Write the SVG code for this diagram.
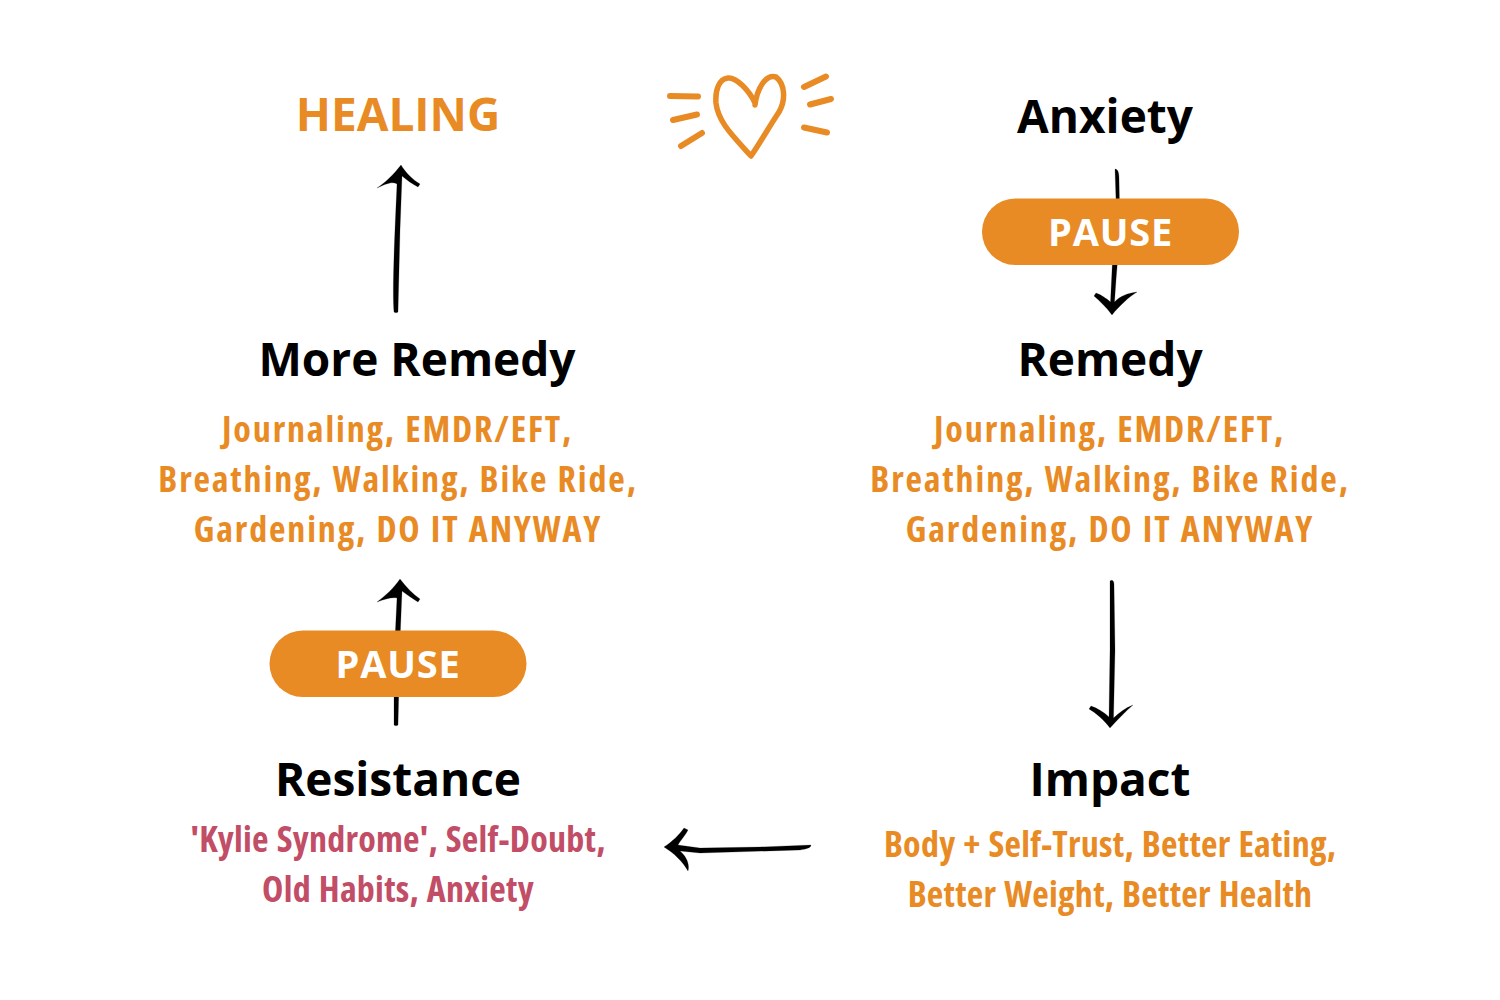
<svg xmlns="http://www.w3.org/2000/svg" width="1500" height="1000" viewBox="0 0 1500 1000">
<style>
text{font-family:"Open Sans","Noto Sans","Liberation Sans",sans-serif;text-anchor:middle}
.t{font-weight:700;font-size:46px;fill:#000}
.s{font-weight:700;font-size:36px;fill:#e88b25;font-stretch:condensed;letter-spacing:1.85px;word-spacing:1px;font-kerning:none}
.i{font-weight:700;font-size:36px;fill:#e88b25;font-stretch:condensed;letter-spacing:.25px;word-spacing:1.2px}
.r{font-weight:700;font-size:36px;fill:#c24d66;font-stretch:condensed;letter-spacing:.25px;word-spacing:1.2px}
.p{font-weight:700;font-size:38px;fill:#fff;letter-spacing:.8px}
.pill{fill:#e88b25}
.a{fill:#000;stroke:#000;stroke-width:.2;stroke-linejoin:round}
.h{fill:none;stroke:#e88b25;stroke-width:5.500;stroke-linecap:round;stroke-linejoin:round}
.d{fill:none;stroke:#e88b25;stroke-width:6;stroke-linecap:round}
</style>
<g id="connectors">
<path class="a" d="M1115 169C1118 169 1119 173 1119 178L1120 230L1116 280L1114.500 302C1120 296 1128 293 1137 292C1129 297 1120 305 1112 315C1106 307 1100 301 1094 296L1096 293C1102 295 1107 299 1110.500 302L1113 250L1116 200Z"/>
<path class="a" d="M1110 581C1112 579 1114 581 1114 584L1115 650L1113.500 718C1119 713 1125 708 1133 705C1126 711 1118 719 1110 728C1104 720 1096 713 1089 709L1091 706C1097 708 1104 712 1109 717L1110 650Z"/>
<path class="a" d="M811 845C811 848 806 849 800 850L700 853L680 851C686 856 690 864 688 871C683 862 674 853 664 847C672 842 680 834 684 828L688 830C685 836 680 841 678 845L700 848L760 847Z"/>
<path class="a" d="M394 312C392 290 395 230 397 184C392 181 386 184 377 188C385 183 394 174 401 165C406 173 413 180 420 184L418 187C412 184 407 180 402 176L400 230L398 312C397 313 395 313 394 312Z"/>
<path class="a" d="M394 725L394 660L397 598C392 597 385 599 377 602C385 596 394 588 400 579C406 587 413 594 420 599L418 602C412 598 407 595 402 591L400 640L398 725C397 726 395 726 394 725Z"/>
</g>
<g id="healing"><text x="398" y="131" style="font-weight:700;font-size:46px;fill:#e88b25">HEALING</text></g>
<g id="heart">
<path class="h" d="M755 103C749 90 736 77 728 78C719 79 715 90 716 103C718 122 733 136 751 156C760 143 769 127 779 112C786 100 785 84 776 77C766 74 757 88 755 105"/>
<path class="d" d="M670 96L698 96.500M673 120L697 114.500M681 146L702 133M804 87L826 76.500M810 104.500L831 99M804 127.500L827 132.500"/>
</g>
<g id="anxiety"><text class="t" x="1105" y="133">Anxiety</text></g>
<g id="pause1"><rect class="pill" x="982" y="198.500" width="257" height="66.500" rx="33.250"/><text class="p" x="1110.500" y="246">PAUSE</text></g>
<g id="remedy"><text class="t" x="1110" y="375.500">Remedy</text>
<text class="s" x="1109.500" y="442">Journaling, EMDR/EFT,</text>
<text class="s" x="1110" y="492">Breathing, Walking, Bike Ride,</text>
<text class="s" x="1110" y="542">Gardening, DO IT ANYWAY</text></g>
<g id="impact"><text class="t" x="1110" y="796">Impact</text>
<text class="i" x="1110" y="857">Body + Self-Trust, Better Eating,</text>
<text class="i" x="1110" y="907">Better Weight, Better Health</text></g>
<g id="more-remedy"><text class="t" x="417" y="376">More Remedy</text>
<text class="s" x="397.500" y="442">Journaling, EMDR/EFT,</text>
<text class="s" x="398" y="492">Breathing, Walking, Bike Ride,</text>
<text class="s" x="398" y="542">Gardening, DO IT ANYWAY</text></g>
<g id="pause2"><rect class="pill" x="269.500" y="630.500" width="257" height="66.500" rx="33.250"/><text class="p" x="398" y="678">PAUSE</text></g>
<g id="resistance"><text class="t" x="398" y="796">Resistance</text>
<text class="r" x="398" y="852">'Kylie Syndrome', Self-Doubt,</text>
<text class="r" x="398" y="902">Old Habits, Anxiety</text></g>
</svg>
